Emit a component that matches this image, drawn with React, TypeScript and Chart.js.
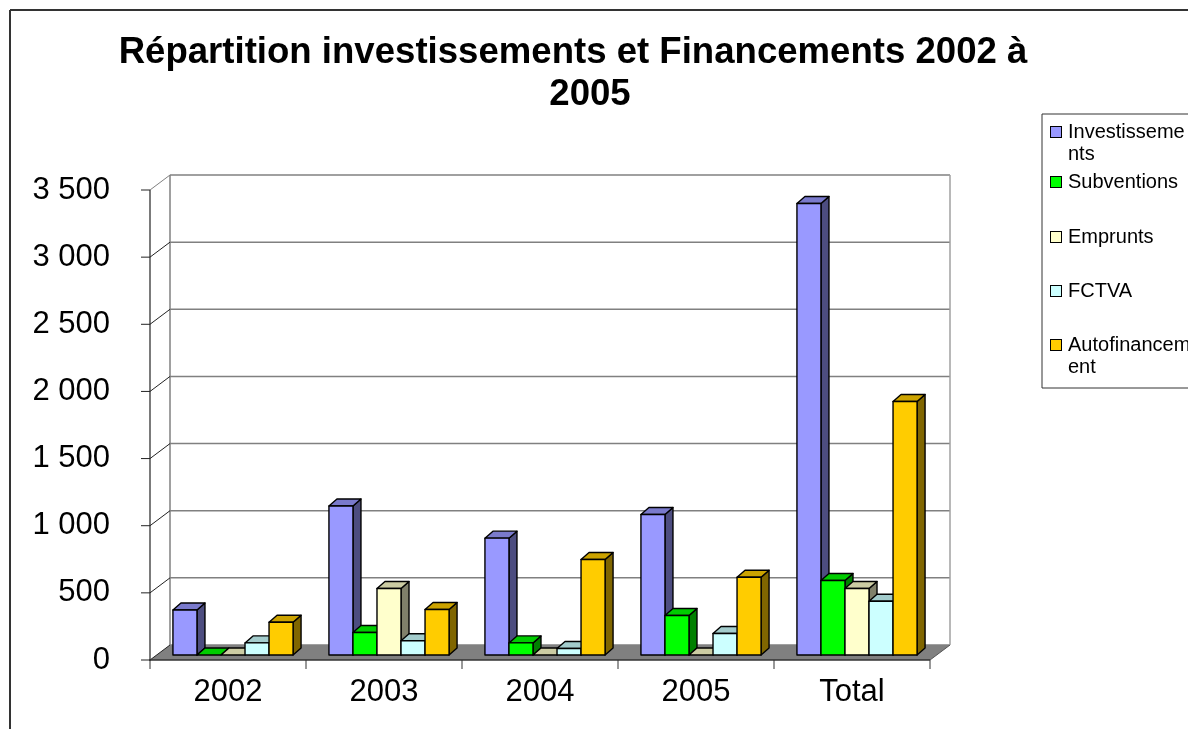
import React, { useEffect, useRef } from 'react';
import { Chart, registerables } from 'chart.js';

Chart.register(...registerables);

// ---------- data ----------
const categories = ['2002', '2003', '2004', '2005', 'Total'];
const seriesNames = ['Investissements', 'Subventions', 'Emprunts', 'FCTVA', 'Autofinancement'];
const investissements = [335, 1110, 870, 1046, 3362];
const subventions = [0, 168, 90, 294, 555];
const emprunts = [0, 495, 0, 0, 495];
const fctva = [90, 106, 48, 160, 400];
const autofinancement = [244, 339, 711, 579, 1888];
const yTickValues = [0, 500, 1000, 1500, 2000, 2500, 3000, 3500];
const titleLines = ['Répartition investissements et Financements 2002 à', '2005'];

// ---------- style ----------
const FRONT = ['#9999FF', '#00FF00', '#FFFFCC', '#CCFFFF', '#FFCC00'];
const TOP = ['#7A7ACC', '#00CC00', '#CCCCA3', '#A3CCCC', '#CCA300'];
const SIDE = ['#4D4D80', '#008000', '#80806A', '#668080', '#806600'];
const FONT = '"Liberation Sans", Arial, sans-serif';
const WALL_DX = 20;
const WALL_DY = -15;
const BAR_SHIFT_X = 5;
const BAR_SHIFT_Y = -5;
const BAR_DX = 8;
const BAR_DY = -7;
const LEGEND_ROWS_Y = [132, 182, 237, 291, 345];

function fmt(v: number): string {
  if (v >= 1000) {
    const th = Math.floor(v / 1000);
    const rest = String(v % 1000).padStart(3, '0');
    return `${th} ${rest}`;
  }
  return String(v);
}

function poly(ctx: CanvasRenderingContext2D, pts: number[][], fill: string | null, stroke: string | null, lw = 1) {
  ctx.beginPath();
  ctx.moveTo(pts[0][0], pts[0][1]);
  for (let i = 1; i < pts.length; i++) ctx.lineTo(pts[i][0], pts[i][1]);
  ctx.closePath();
  if (fill) {
    ctx.fillStyle = fill;
    ctx.fill();
  }
  if (stroke) {
    ctx.strokeStyle = stroke;
    ctx.lineWidth = lw;
    ctx.stroke();
  }
}

function line(ctx: CanvasRenderingContext2D, x1: number, y1: number, x2: number, y2: number, color: string, lw: number) {
  ctx.beginPath();
  ctx.moveTo(x1, y1);
  ctx.lineTo(x2, y2);
  ctx.strokeStyle = color;
  ctx.lineWidth = lw;
  ctx.stroke();
}

function wrapChars(ctx: CanvasRenderingContext2D, text: string, maxW: number): string[] {
  const out: string[] = [];
  let cur = '';
  for (const ch of text) {
    if (cur && ctx.measureText(cur + ch).width > maxW) {
      out.push(cur);
      cur = ch;
    } else cur += ch;
  }
  if (cur) out.push(cur);
  return out;
}

const threeDPlugin = {
  id: 'threeD',
  beforeDraw(chart: any) {
    const ctx: CanvasRenderingContext2D = chart.ctx;
    const { left, right, bottom } = chart.chartArea;
    const ys = chart.scales.y;
    ctx.save();
    ctx.fillStyle = '#ffffff';
    ctx.fillRect(0, 0, chart.width, chart.height);

    // page frame
    line(ctx, 10, 10, chart.width + 2, 10, '#333333', 2);
    line(ctx, 10, 10, 10, chart.height + 2, '#333333', 2);

    // back wall gridlines
    yTickValues.forEach((v) => {
      const py = ys.getPixelForValue(v);
      line(ctx, left + WALL_DX, py + WALL_DY, right + WALL_DX, py + WALL_DY, '#808080', 1.5);
    });
    const topY = ys.getPixelForValue(yTickValues[yTickValues.length - 1]);
    line(ctx, left + WALL_DX, topY + WALL_DY, left + WALL_DX, bottom + WALL_DY, '#808080', 1.5);
    line(ctx, right + WALL_DX, topY + WALL_DY, right + WALL_DX, bottom + WALL_DY, '#a0a0a0', 1.5);

    // floor
    poly(
      ctx,
      [
        [left, bottom],
        [right, bottom],
        [right + WALL_DX, bottom + WALL_DY],
        [left + WALL_DX, bottom + WALL_DY],
      ],
      '#808080',
      null
    );
    line(ctx, right, bottom, right + WALL_DX, bottom + WALL_DY, '#555555', 1);

    // left wall diagonals and tick marks
    yTickValues.forEach((v, i) => {
      const py = ys.getPixelForValue(v);
      line(ctx, left, py, left + WALL_DX, py + WALL_DY, i === yTickValues.length - 1 ? '#808080' : '#222222', 1);
      line(ctx, left - 9, py, left, py, '#222222', 1);
    });

    // axes
    line(ctx, left, topY, left, bottom + 1, '#222222', 1.2);
    line(ctx, left - 1, bottom, right, bottom, '#333333', 1.5);
    const n = categories.length;
    for (let i = 0; i <= n; i++) {
      const px = left + ((right - left) * i) / n;
      line(ctx, px, bottom, px, bottom + 9, '#333333', 1);
    }
    ctx.restore();
  },
  beforeDatasetsDraw(chart: any) {
    const ctx: CanvasRenderingContext2D = chart.ctx;
    ctx.save();
    ctx.lineJoin = 'round';
    const nCat = categories.length;
    const nDs = chart.data.datasets.length;
    for (let j = 0; j < nCat; j++) {
      for (let i = 0; i < nDs; i++) {
        const el = chart.getDatasetMeta(i).data[j];
        if (!el) continue;
        const w = el.width;
        const l = el.x - w / 2 + BAR_SHIFT_X;
        const r = el.x + w / 2 + BAR_SHIFT_X;
        const t = el.y + BAR_SHIFT_Y;
        const b = el.base + BAR_SHIFT_Y;
        const lw = 1.4;
        if (b - t > 0.5) {
          poly(ctx, [[r, t], [r + BAR_DX, t + BAR_DY], [r + BAR_DX, b + BAR_DY], [r, b]], SIDE[i], '#000000', lw);
        }
        poly(ctx, [[l, t], [l + BAR_DX, t + BAR_DY], [r + BAR_DX, t + BAR_DY], [r, t]], TOP[i], '#000000', lw);
        if (b - t > 0.5) {
          poly(ctx, [[l, t], [r, t], [r, b], [l, b]], FRONT[i], '#000000', lw);
        }
      }
    }
    ctx.restore();
    return false;
  },
  afterDraw(chart: any) {
    const ctx: CanvasRenderingContext2D = chart.ctx;
    ctx.save();
    // title
    ctx.fillStyle = '#000000';
    ctx.font = `bold 36.6px ${FONT}`;
    ctx.textAlign = 'center';
    ctx.textBaseline = 'alphabetic';
    ctx.fillText(titleLines[0], 573, 63);
    ctx.fillText(titleLines[1], 590, 105);

    // legend
    line(ctx, 1042, 114, 1200, 114, '#333333', 1);
    line(ctx, 1042, 114, 1042, 388, '#333333', 1);
    line(ctx, 1042, 388, 1200, 388, '#333333', 1);
    ctx.font = `20px ${FONT}`;
    ctx.textAlign = 'left';
    ctx.textBaseline = 'middle';
    chart.data.datasets.forEach((ds: any, i: number) => {
      const y0 = LEGEND_ROWS_Y[i];
      ctx.fillStyle = FRONT[i];
      ctx.fillRect(1050, y0 - 6, 12, 12);
      ctx.strokeStyle = '#000000';
      ctx.lineWidth = 1;
      ctx.strokeRect(1050.5, y0 - 5.5, 11, 11);
      ctx.fillStyle = '#000000';
      const lines = wrapChars(ctx, ds.label, 125);
      lines.forEach((ln, k) => ctx.fillText(ln, 1068, y0 + k * 22));
    });
    ctx.restore();
  },
};

export default function App() {
  const ref = useRef<HTMLCanvasElement | null>(null);
  useEffect(() => {
    if (!ref.current) return;
    const series = [investissements, subventions, emprunts, fctva, autofinancement];
    const chart = new Chart(ref.current, {
      type: 'bar',
      data: {
        labels: categories,
        datasets: series.map((d, i) => ({
          label: seriesNames[i],
          data: d,
          backgroundColor: FRONT[i],
          borderColor: '#000000',
          borderWidth: 1,
          categoryPercentage: 0.77,
          barPercentage: 1.0,
        })),
      },
      options: {
        responsive: false,
        animation: false,
        devicePixelRatio: 1,
        layout: { padding: { left: 0, top: 190, right: 258, bottom: 0 } },
        plugins: {
          legend: { display: false },
          title: { display: false },
          tooltip: { enabled: false },
        },
        scales: {
          x: {
            type: 'category',
            offset: true,
            grid: { display: false, drawTicks: false },
            border: { display: false },
            ticks: {
              color: '#000000',
              font: { family: FONT, size: 31 },
              padding: 14,
              maxRotation: 0,
              autoSkip: false,
            },
            afterFit: (s: any) => {
              s.height = 69;
            },
          },
          y: {
            type: 'linear',
            min: 0,
            max: 3500,
            grid: { display: false, drawTicks: false },
            border: { display: false },
            ticks: {
              stepSize: 500,
              color: '#000000',
              font: { family: FONT, size: 31 },
              padding: 40,
              callback: (v: any) => fmt(Number(v)),
            },
            afterFit: (s: any) => {
              s.width = 150;
            },
          },
        },
      },
      plugins: [threeDPlugin],
    });
    return () => chart.destroy();
  }, []);
  return (
    <div style={{ position: 'absolute', left: 0, top: 0, width: 1188, height: 729 }}>
      <canvas ref={ref} width={1188} height={729} style={{ display: 'block' }} />
    </div>
  );
}
